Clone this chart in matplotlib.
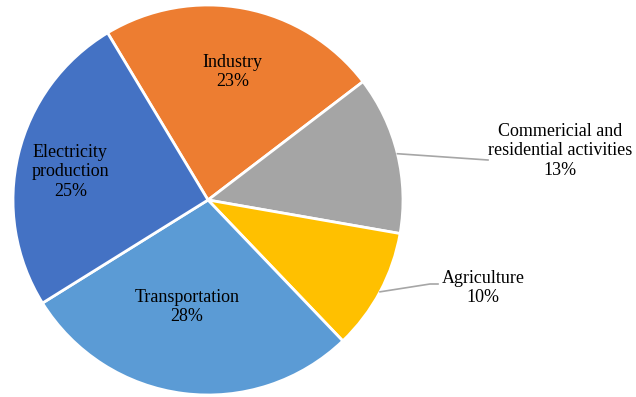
import numpy as np
import matplotlib
matplotlib.use("Agg")
import matplotlib.pyplot as plt

categories = ["Industry", "Commericial and\nresidential activities", "Agriculture",
              "Transportation", "Electricity\nproduction"]
shares = [23, 13, 10, 28, 25]
colors = ["#ED7D31", "#A5A5A5", "#FFC000", "#5B9BD5", "#4472C4"]

plt.rcParams["font.family"] = ["Liberation Serif", "DejaVu Serif"]

W, H = 636, 397
fig = plt.figure(figsize=(W / 100, H / 100), dpi=100)
cx, cy, R = 208, 200, 195
ax = fig.add_axes([(cx - R) / W, (H - cy - R) / H, 2 * R / W, 2 * R / H])

wedges, _ = ax.pie(shares, colors=colors, startangle=121, counterclock=False,
                   radius=1.0, wedgeprops=dict(edgecolor="white", linewidth=2))
ax.set_xlim(-1, 1)
ax.set_ylim(-1, 1)
ax.set_aspect("equal")
ax.axis("off")

labels = [f"{c}\n{v}%" for c, v in zip(categories, shares)]
fs = 13.0
ls = 1.18

# labels inside slices: (radius, angle offset in degrees)
inside = {0: (0.67, 0.0), 3: (0.56, -4.0), 4: (0.72, 2.0)}
for i, (r, da) in inside.items():
    w = wedges[i]
    ang = np.deg2rad((w.theta1 + w.theta2) / 2 + da)
    ax.text(r * np.cos(ang), r * np.sin(ang), labels[i], ha="center", va="center",
            fontsize=fs, linespacing=ls)

# labels outside with leader lines
outside = {1: ((488 - cx) / R, (cy - 160) / R, (560 - cx) / R, (cy - 151) / R),
           2: ((438 - cx) / R, (cy - 284) / R, (483 - cx) / R, (cy - 288) / R)}
for i, (lx, ly, tx, ty) in outside.items():
    w = wedges[i]
    ang = np.deg2rad((w.theta1 + w.theta2) / 2)
    ex, ey = np.cos(ang), np.sin(ang)
    if i == 2:
        ax.plot([ex, lx - 8 / R, lx], [ey, ly, ly], color="#A6A6A6", lw=1.2,
                clip_on=False)
    else:
        ax.plot([ex, lx], [ey, ly], color="#A6A6A6", lw=1.2, clip_on=False)
    ax.text(tx, ty, labels[i], ha="center", va="center", fontsize=fs,
            linespacing=ls, clip_on=False)

fig.savefig("out.png", dpi=100, facecolor="white")
